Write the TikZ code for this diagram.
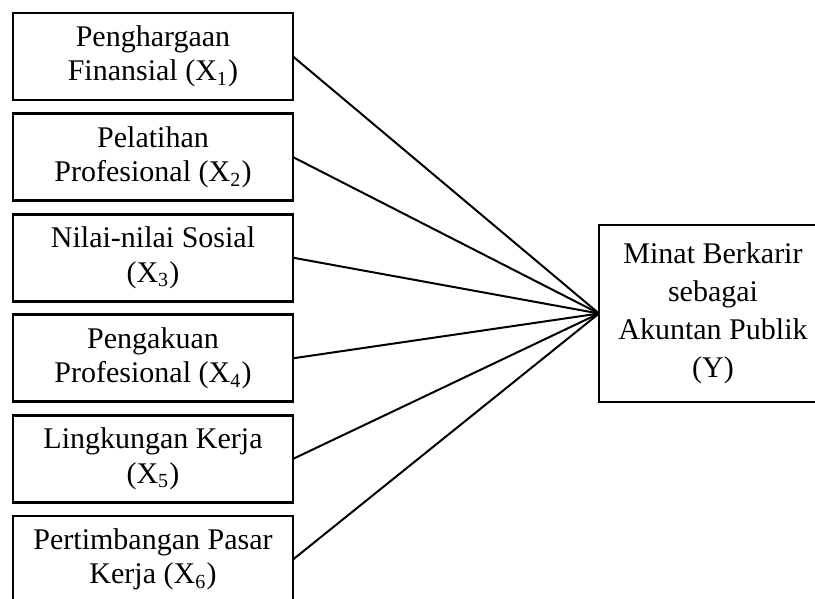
\documentclass[tikz,border=0pt]{standalone}
\usepackage{fontspec}
\setmainfont{Liberation Serif}
\usetikzlibrary{positioning}

\begin{document}
\begin{tikzpicture}[
        x=0.4pt, y=-0.4pt,
        node distance=5.44pt,
        box/.style={draw, line width=1.1pt, minimum width=112pt, minimum height=34.8pt, align=center, inner sep=0pt, outer sep=0pt, font=\fontsize{12}{13.8}\selectfont},
        target/.style={draw, line width=1.1pt, minimum width=91.2pt, minimum height=70.8pt, align=center, inner sep=0pt, outer sep=0pt, font=\fontsize{12}{15.2}\selectfont},
        link/.style={line width=0.8pt}
    ]
        \path[use as bounding box, clip] (0,0) rectangle (815,599);

        \node[box, anchor=north west] (finansial) at (13,13) {Penghargaan\\Finansial (X\textsubscript{1})};
        \node[box, below=of finansial] (pelatihan) {Pelatihan\\Profesional (X\textsubscript{2})};
        \node[box, below=of pelatihan] (sosial) {Nilai-nilai Sosial\\(X\textsubscript{3})};
        \node[box, below=of sosial] (pengakuan) {Pengakuan\\Profesional (X\textsubscript{4})};
        \node[box, below=of pengakuan] (lingkungan) {Lingkungan Kerja\\(X\textsubscript{5})};
        \node[box, below=of lingkungan] (pasar) {Pertimbangan Pasar\\Kerja (X\textsubscript{6})};
        \node[target, anchor=west] (minat) at (599,313.5) {Minat Berkarir\\sebagai\\Akuntan Publik\\(Y)};

        \draw[link] (finansial.east) -- (minat.west);
        \draw[link] (pelatihan.east) -- (minat.west);
        \draw[link] (sosial.east) -- (minat.west);
        \draw[link] (pengakuan.east) -- (minat.west);
        \draw[link] (lingkungan.east) -- (minat.west);
        \draw[link] (pasar.east) -- (minat.west);
    \end{tikzpicture}
\end{document}
